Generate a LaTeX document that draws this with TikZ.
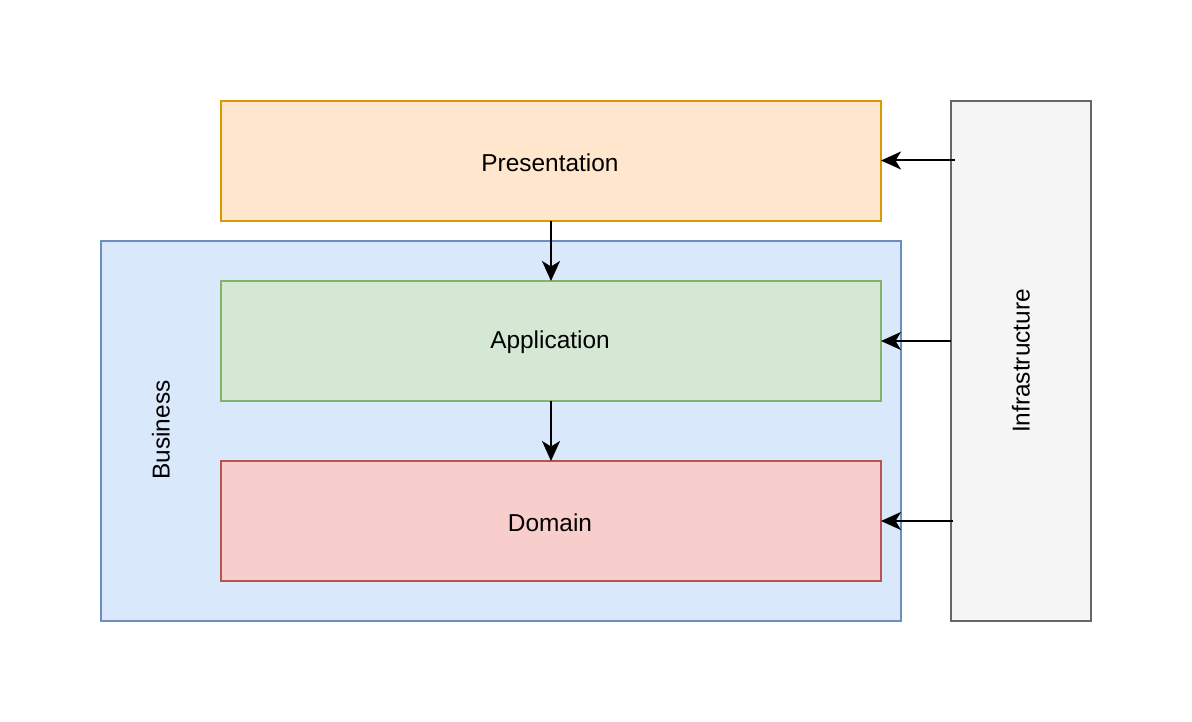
\documentclass[tikz,border=0pt]{standalone}
\usepackage{fontspec}
\setmainfont{Liberation Sans}
\usetikzlibrary{arrows.meta}
\definecolor{presFill}{HTML}{FFE6CC}
\definecolor{presLine}{HTML}{D79B00}
\definecolor{busFill}{HTML}{DAE8FC}
\definecolor{busLine}{HTML}{6C8EBF}
\definecolor{appFill}{HTML}{D5E8D4}
\definecolor{appLine}{HTML}{82B366}
\definecolor{domFill}{HTML}{F8CECC}
\definecolor{domLine}{HTML}{B85450}
\definecolor{infFill}{HTML}{F5F5F5}
\definecolor{infLine}{HTML}{666666}
\begin{document}
\begin{tikzpicture}[x=0.02cm,y=-0.02cm,
  layer/.style={draw, line width=0.04cm},
  lbl/.style={inner sep=0pt, font=\fontsize{13.9}{16}\selectfont},
  flow/.style={line width=0.04cm, -{Stealth[length=0.4cm,width=0.36cm,inset=0.11cm]}}]
\useasboundingbox (0,0) rectangle (1192,722);
% outer business container
\path[layer, draw=busLine, fill=busFill] (101,241) rectangle (901,621);
\node[lbl, rotate=90] (bus) at (161,430) {Business};
% layers
\draw[layer, draw=presLine, fill=presFill] (221,101) rectangle (881,221);
\node[lbl] (pres) at (550,162.5) {Presentation};
\draw[layer, draw=appLine, fill=appFill] (221,281) rectangle (881,401);
\node[lbl] (app) at (550,342.5) {Application};
\draw[layer, draw=domLine, fill=domFill] (221,461) rectangle (881,581);
\node[lbl] (dom) at (550,522.5) {Domain};
\draw[layer, draw=infLine, fill=infFill] (951,101) rectangle (1091,621);
\node[lbl, rotate=90] (inf) at (1021,361) {Infrastructure};
% anchor points on box edges
\coordinate (presB) at (551,221);
\coordinate (appT) at (551,281);
\coordinate (appB) at (551,401);
\coordinate (domT) at (551,461);
\coordinate (presR) at (881,160.5);
\coordinate (appR) at (881,341);
\coordinate (domR) at (881,521);
\coordinate (infP) at (955,160.5);
\coordinate (infA) at (951,341);
\coordinate (infD) at (953,521);
% dependencies
\draw[flow] (presB) -- (appT);
\draw[flow] (appB) -- (domT);
\draw[flow] (infP) -- (presR);
\draw[flow] (infA) -- (appR);
\draw[flow] (infD) -- (domR);
\end{tikzpicture}
\end{document}
